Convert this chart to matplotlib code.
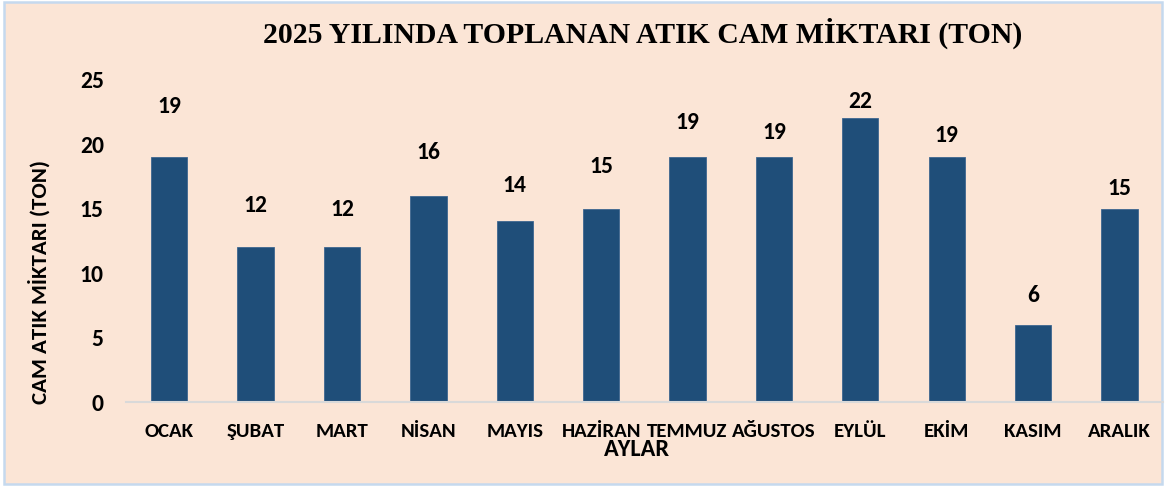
import matplotlib
matplotlib.use("Agg")
import matplotlib.pyplot as plt
from matplotlib.patches import Rectangle

months = ["OCAK", "ŞUBAT", "MART", "NİSAN", "MAYIS", "HAZİRAN", "TEMMUZ",
          "AĞUSTOS", "EYLÜL", "EKİM", "KASIM", "ARALIK"]
values = [19, 12, 12, 16, 14, 15, 19, 19, 22, 19, 6, 15]
yticks = [0, 5, 10, 15, 20, 25]
title = "2025 YILINDA TOPLANAN ATIK CAM MİKTARI (TON)"
ylabel = "CAM ATIK MİKTARI (TON)"
xlabel = "AYLAR"

# label placement offsets above bar tops (pixels) - layout only
label_offsets = [50, 42, 38, 43, 36, 42, 34, 24, 17, 21, 29, 20]

BG = "#FBE5D6"
BAR = "#1F4E79"
SANS = ["Carlito", "Lato", "DejaVu Sans"]

W, H = 1166, 486
fig = plt.figure(figsize=(W / 100, H / 100), dpi=100, facecolor="white")
fig.patches.append(Rectangle((4 / W, 2 / H), 1158 / W, 482 / H,
                             transform=fig.transFigure, facecolor=BG,
                             edgecolor="#C5D9EE", linewidth=1.8, zorder=-1))

ax = fig.add_axes([126 / W, 1 - 402 / H, (1162.7 - 126) / W, (402 - 79.5) / H])
ax.set_facecolor("none")
x = list(range(len(months)))
ax.bar(x, values, width=0.42, color=BAR, edgecolor="#3E6690", linewidth=0.6, zorder=2)

ax.set_xlim(-0.5, len(months) - 0.5)
ax.set_ylim(0, 25)
ax.set_yticks(yticks)
ax.set_yticklabels([str(t) for t in yticks], fontsize=17, fontweight="bold", family=SANS)
ax.set_xticks(x)
ax.set_xticklabels(months, fontsize=15, fontweight="bold", family=SANS)
ax.tick_params(axis="y", length=0, pad=16)
ax.tick_params(axis="x", length=0, pad=15)

for s in ["top", "right", "left"]:
    ax.spines[s].set_visible(False)
ax.spines["bottom"].set_color("#D9D9D9")
ax.spines["bottom"].set_linewidth(1.5)

for xi, v, off in zip(x, values, label_offsets):
    ax.annotate(str(v), (xi, v), xytext=(0, off), textcoords="offset pixels",
                ha="center", va="center", fontsize=17, fontweight="bold",
                family=SANS, color="black")

fig.text(643 / W, 1 - 33 / H, title, ha="center", va="center", fontsize=21.4,
         fontweight="bold", family=["Liberation Serif", "DejaVu Serif"])
fig.text(39 / W, 1 - 282 / H, ylabel, ha="center", va="center", rotation=90,
         fontsize=16.5, fontweight="bold", family=SANS)
fig.text(637 / W, 1 - 449 / H, xlabel, ha="center", va="center",
         fontsize=17.5, fontweight="bold", family=SANS)

fig.savefig("out.png", dpi=100, facecolor="white")
